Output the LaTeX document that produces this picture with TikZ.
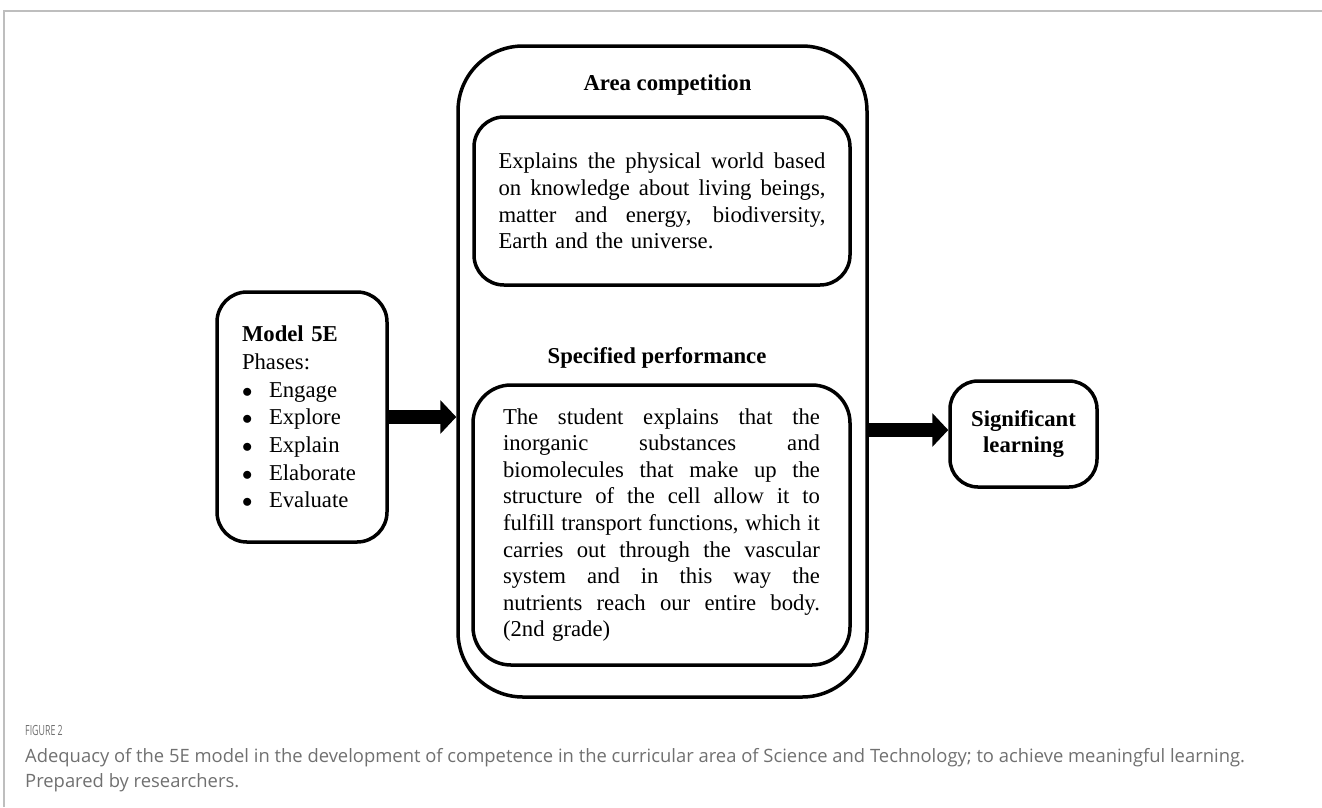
\documentclass[tikz,border=0pt]{standalone}
\usepackage{fontspec}
\setmainfont{Liberation Serif}
\newfontfamily\capfont{Open Sans}
\usetikzlibrary{arrows.meta}
\definecolor{framegray}{RGB}{190,190,190}
\definecolor{capgray}{RGB}{112,112,112}
\newcommand{\bodyfont}{\fontsize{22.7}{26.6}\selectfont}
\newcommand{\listfont}{\fontsize{22.7}{27.7}\selectfont}
\newcommand{\jline}[2]{\makebox[#1][s]{\spaceskip=0.25em plus 20em\relax\xspaceskip=0.25em plus 20em\relax #2}}
\newcommand{\blt}{\makebox[27pt][l]{$\bullet$}}
\tikzset{
  rbox/.style={draw, line width=3.5pt, inner sep=0pt},
  head/.style={font=\bodyfont\bfseries, inner sep=0pt, anchor=base},
  blockarrow/.style={line width=14.5pt, -{Triangle[width=33pt,length=16pt]}},
  captext/.style={font=\capfont\fontsize{18.4}{21}\selectfont, text=capgray, inner sep=0pt, anchor=base west},
  frame/.style={draw=framegray, line width=1.5pt}
}
\begin{document}
\begin{tikzpicture}[x=1pt, y=-1pt]
\useasboundingbox (0,0) rectangle (1322,807);
% frame lines
\coordinate (ftl) at (4,11);
\coordinate (ftr) at (1322,11);
\coordinate (fbl) at (4,807);
\draw[frame] (fbl) -- (ftl) -- (ftr);
% boxes
\node[rbox, rounded corners=65pt, minimum width=409pt, minimum height=651pt] (big) at (662.5,371.5) {};
\node[head] (hA) at (667.5,90) {Area competition};
\node[rbox, rounded corners=30pt, minimum width=376pt, minimum height=168pt, text width=327pt, align=left, font=\bodyfont] (comp) at (662,201)
  {\jline{327pt}{Explains the physical world based}\\
   \jline{327pt}{on knowledge about living beings,}\\
   \jline{327pt}{matter and energy, biodiversity,}\\
   Earth and the universe.};
\node[head] (hS) at (657,363) {Specified performance};
\node[rbox, rounded corners=38pt, minimum width=377pt, minimum height=280pt, text width=317pt, align=left, font=\bodyfont] (perf) at (661.5,525)
  {\jline{317pt}{The student explains that the}\\
   \jline{317pt}{inorganic substances and}\\
   \jline{317pt}{biomolecules that make up the}\\
   \jline{317pt}{structure of the cell allow it to}\\
   \jline{317pt}{fulfill transport functions, which it}\\
   \jline{317pt}{carries out through the vascular}\\
   \jline{317pt}{system and in this way the}\\
   \jline{317pt}{nutrients reach our entire body.}\\
   (2nd grade)};
\node[rbox, rounded corners=30pt, minimum width=170pt, minimum height=250pt, text width=120pt, align=left, font=\listfont] (m5e) at (302,417)
  {\textbf{Model 5E}\\
   Phases:\\
   \blt Engage\\
   \blt Explore\\
   \blt Explain\\
   \blt Elaborate\\
   \blt Evaluate};
\node[rbox, rounded corners=28pt, minimum width=147pt, minimum height=106pt, align=center, font=\bodyfont\bfseries] (sig) at (1023.5,434)
  {Significant\\learning};
% arrows
\draw[blockarrow] (m5e.east) -- (big.west |- m5e.east);
\coordinate (sigin) at ([yshift=4pt]sig.west);
\draw[blockarrow] (big.east |- sigin) -- (sigin);
% caption
\node[captext, font=\capfont\fontsize{14}{16}\selectfont] (figlab) at (25,735) {\scalebox{0.63}[1]{FIGURE 2}};
\node[captext] (cap1) at (25,762) {Adequacy of the 5E model in the development of competence in the curricular area of Science and Technology; to achieve meaningful learning.};
\node[captext] (cap2) at (25,787) {Prepared by researchers.};
\end{tikzpicture}
\end{document}
